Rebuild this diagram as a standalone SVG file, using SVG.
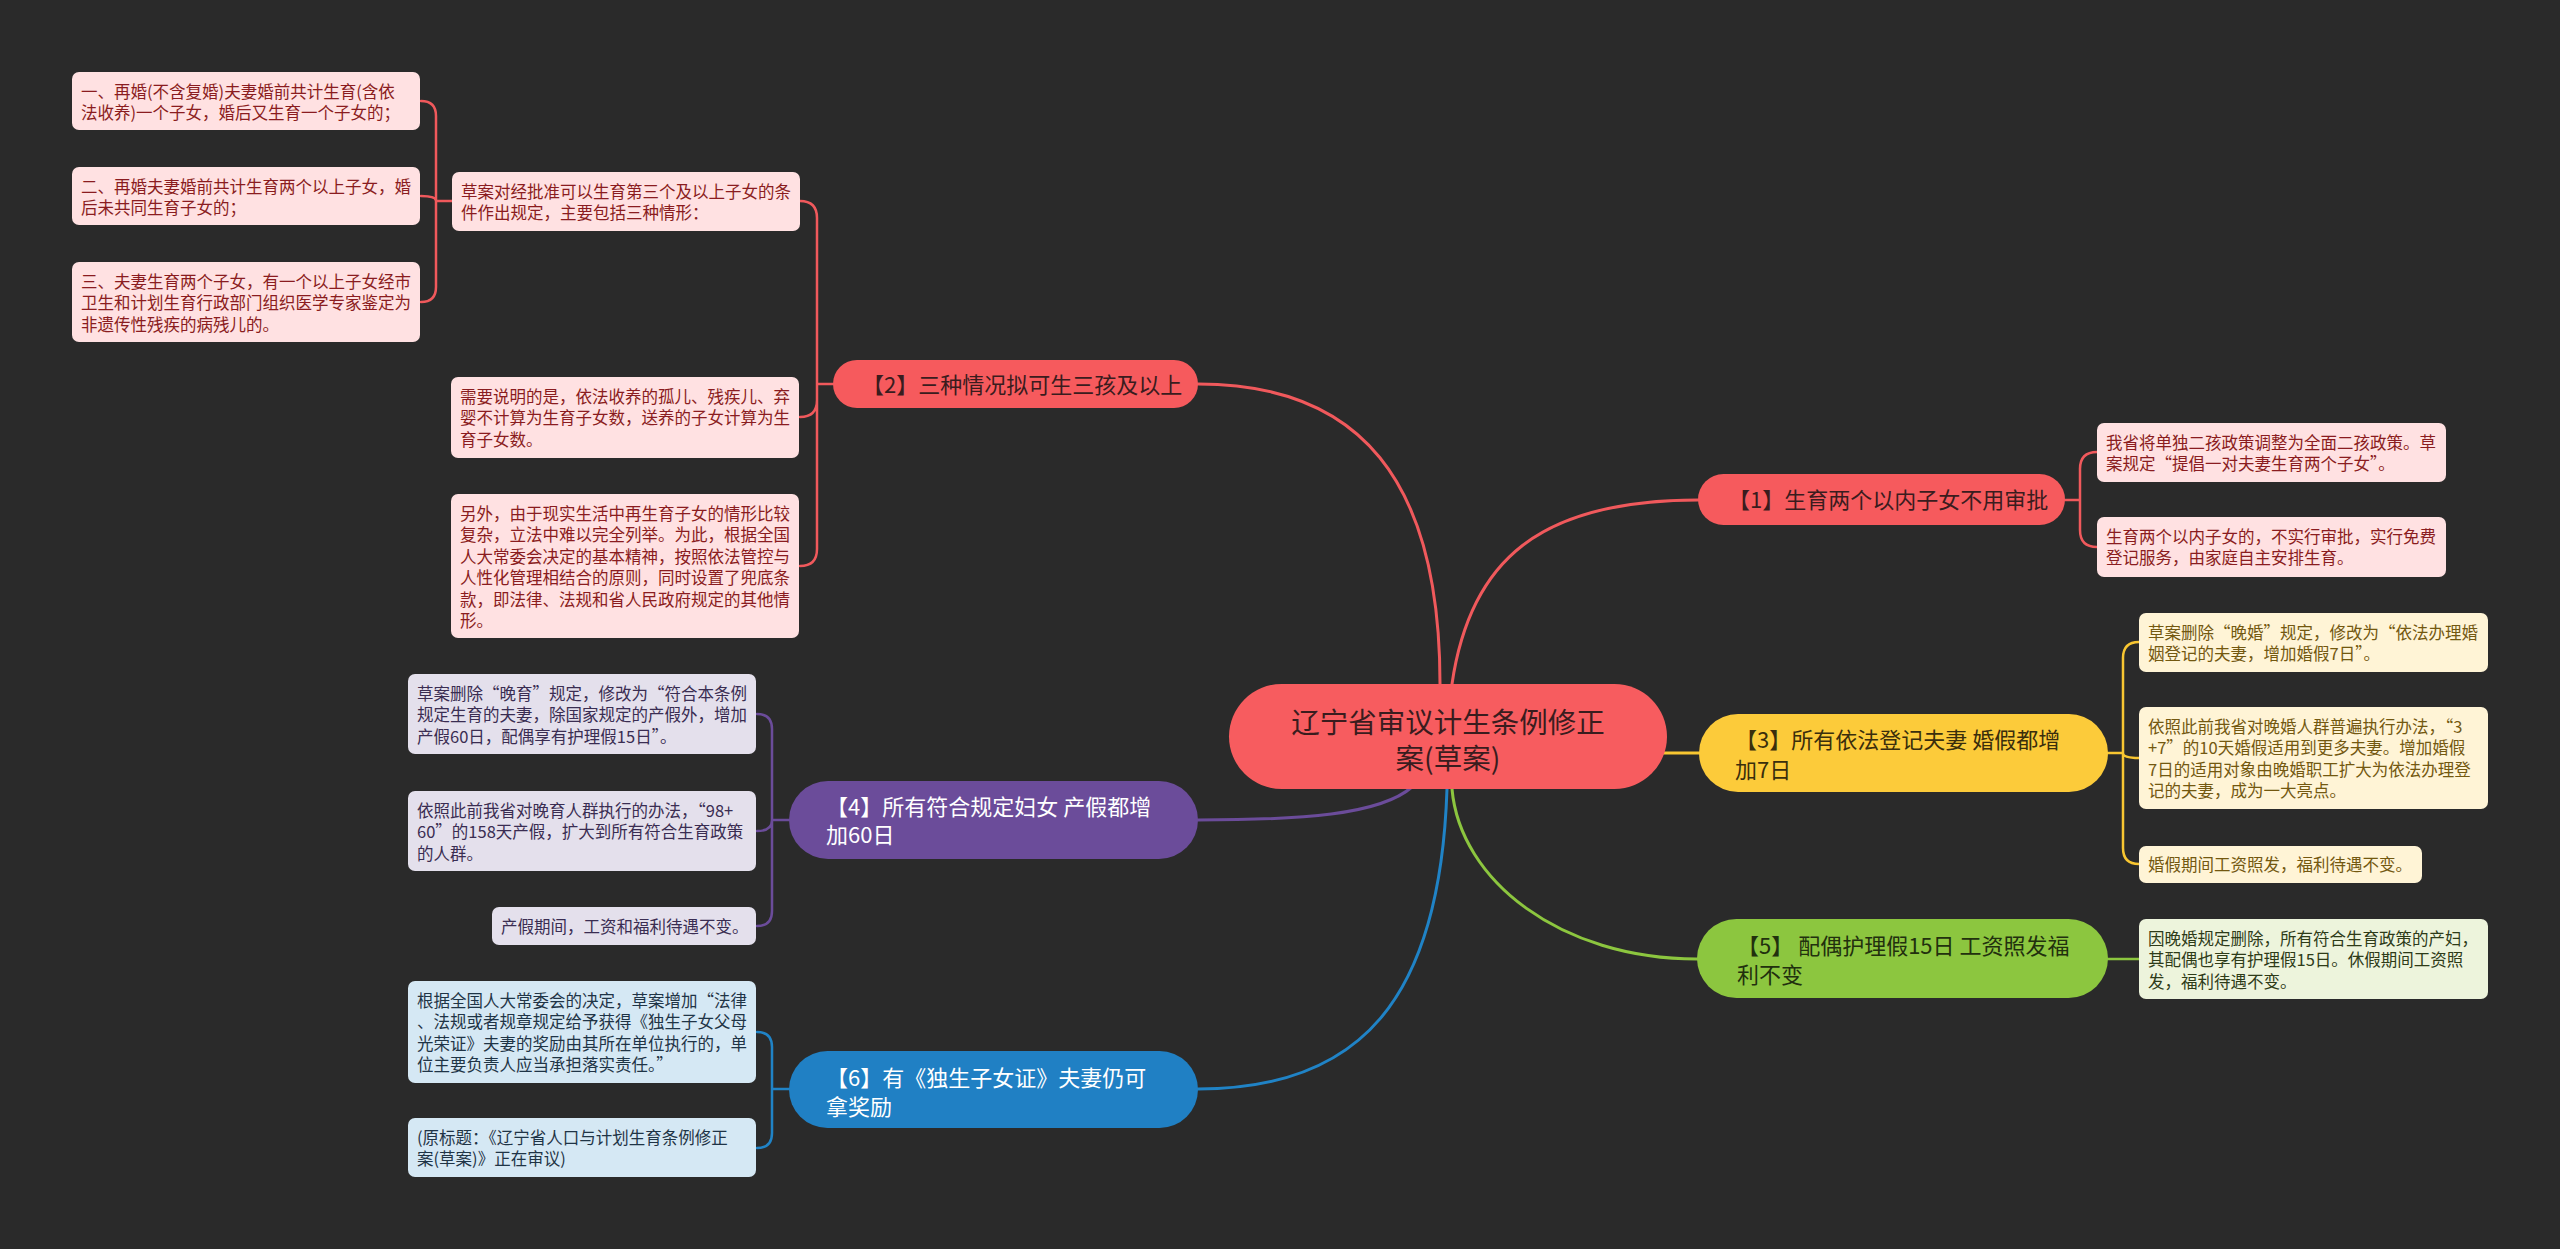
<svg xmlns="http://www.w3.org/2000/svg" width="2560" height="1249" viewBox="0 0 2560 1249">
<style>
text{font-family:"Noto Sans CJK SC","Noto Sans",sans-serif;}
.q{font-feature-settings:"fwid" 1;}
.c{fill:none;stroke-linecap:round;}
.main{stroke-width:3;}
.leafc{stroke-width:2.5;}
.red{stroke:#F0595C;}
.yel{stroke:#F8C631;}
.pur{stroke:#6B4C9A;}
.blu{stroke:#2083C6;}
.grn{stroke:#8CC63F;}
.lf{font-size:16.5px;}
.br{font-size:22px;}
.pk rect{fill:#FFE1E2;} .pk text{fill:#8A1C20;}
.yl rect{fill:#FFF4D6;} .yl text{fill:#735810;}
.gl rect{fill:#EDF4DC;} .gl text{fill:#2E3B18;}
.pl rect{fill:#E4E0EC;} .pl text{fill:#3A2D52;}
.bl rect{fill:#D5E8F4;} .bl text{fill:#1F3446;}
</style>
<rect x="0" y="0" width="2560" height="1249" fill="#2A2A2A"/>

<g id="connectors">
  <path class="c main red" d="M1452,684 C1470,560 1540,500 1698,500"/>
  <path class="c main red" d="M1440,684 C1440,480 1360,384 1198,384"/>
  <path class="c main yel" d="M1660,753 H1699"/>
  <path class="c main grn" d="M1452,789 C1460,880 1560,959 1697,959"/>
  <path class="c main pur" d="M1412,787 C1380,815 1300,820 1198,820"/>
  <path class="c main blu" d="M1447,789 C1440,1000 1360,1089 1198,1089"/>

  <path class="c leafc red" d="M2065,500 H2080 M2080,500 V469 Q2080,452 2097,452 M2080,500 V530 Q2080,547 2097,547"/>
  <path class="c leafc red" d="M833,384 H817 M817,384 V218 Q817,201 800,201 M817,384 V400 Q817,417 800,417 M817,384 V549 Q817,566 800,566"/>
  <path class="c leafc red" d="M452,201 H436 M436,201 V116 Q436,101 421,101 M436,201 Q436,196 421,196 M436,201 V287 Q436,302 421,302"/>
  <path class="c leafc yel" d="M2108,753 H2123 M2123,753 V658 Q2123,642 2139,642 M2123,753 Q2123,758 2139,758 M2123,753 V848 Q2123,864 2139,864"/>
  <path class="c leafc grn" d="M2108,959 H2139"/>
  <path class="c leafc pur" d="M789,820 H772 M772,820 V729 Q772,714 757,714 M772,820 Q772,831 757,831 M772,820 V911 Q772,926 757,926"/>
  <path class="c leafc blu" d="M789,1089 H772 M772,1089 V1047 Q772,1032 757,1032 M772,1089 V1133 Q772,1148 757,1148"/>
</g>

<g id="central">
  <rect x="1229" y="684" width="438" height="105" rx="52.5" fill="#F75C5F"/>
  <text x="1448" y="733" font-size="28.5" fill="#3A1C1E" text-anchor="middle">辽宁省审议计生条例修正</text>
  <text x="1448" y="769" font-size="28.5" fill="#3A1C1E" text-anchor="middle">案(草案)</text>
</g>

<g id="b1">
  <rect x="1698" y="474" width="367" height="51" rx="25.5" fill="#F65A5D"/>
  <text class="br" x="1728" y="508" fill="#3A1C1E">【1】生育两个以内子女不用审批</text>
</g>
<g id="b2">
  <rect x="833" y="360" width="365" height="48" rx="24" fill="#F65A5D"/>
  <text class="br" x="862" y="393" fill="#3A1C1E">【2】三种情况拟可生三孩及以上</text>
</g>
<g id="b3">
  <rect x="1699" y="714" width="409" height="78" rx="39" fill="#FCCB3A"/>
  <text class="br" x="1735" y="748" fill="#3A2E0C">【3】所有依法登记夫妻 婚假都增</text>
  <text class="br" x="1735" y="778" fill="#3A2E0C">加7日</text>
</g>
<g id="b4">
  <rect x="789" y="781" width="409" height="78" rx="39" fill="#6B4C9A"/>
  <text class="br" x="826" y="815" fill="#FFFFFF">【4】所有符合规定妇女 产假都增</text>
  <text class="br" x="826" y="843" fill="#FFFFFF">加60日</text>
</g>
<g id="b5">
  <rect x="1697" y="919" width="411" height="79" rx="39.5" fill="#8CC63F"/>
  <text class="br" x="1737" y="954" fill="#22300E">【5】 配偶护理假15日 工资照发福</text>
  <text class="br" x="1737" y="983" fill="#22300E">利不变</text>
</g>
<g id="b6">
  <rect x="789" y="1051" width="409" height="77" rx="38.5" fill="#2080C4"/>
  <text class="br" x="826" y="1086" fill="#FFFFFF">【6】有《独生子女证》夫妻仍可</text>
  <text class="br" x="826" y="1115" fill="#FFFFFF">拿奖励</text>
</g>

<g id="l1a" class="pk lf">
  <rect x="2097" y="423" width="349" height="59" rx="7"/>
  <text x="2106" y="449">我省将单独二孩政策调整为全面二孩政策。草</text>
  <text x="2106" y="470.4">案规定<tspan class="q">“</tspan>提倡一对夫妻生育两个子女<tspan class="q">”</tspan>。</text>
</g>
<g id="l1b" class="pk lf">
  <rect x="2097" y="517" width="349" height="60" rx="7"/>
  <text x="2106" y="543">生育两个以内子女的，不实行审批，实行免费</text>
  <text x="2106" y="564.4">登记服务，由家庭自主安排生育。</text>
</g>

<g id="l2a" class="pk lf">
  <rect x="452" y="172" width="348" height="59" rx="7"/>
  <text x="461" y="198">草案对经批准可以生育第三个及以上子女的条</text>
  <text x="461" y="219.4">件作出规定，主要包括三种情形：</text>
</g>
<g id="l2a1" class="pk lf">
  <rect x="72" y="72" width="348" height="58" rx="7"/>
  <text x="81" y="98">一、再婚(不含复婚)夫妻婚前共计生育(含依</text>
  <text x="81" y="119.4">法收养)一个子女，婚后又生育一个子女的；</text>
</g>
<g id="l2a2" class="pk lf">
  <rect x="72" y="167" width="348" height="58" rx="7"/>
  <text x="81" y="193">二、再婚夫妻婚前共计生育两个以上子女，婚</text>
  <text x="81" y="214.4">后未共同生育子女的；</text>
</g>
<g id="l2a3" class="pk lf">
  <rect x="72" y="262" width="348" height="80" rx="7"/>
  <text x="81" y="288">三、夫妻生育两个子女，有一个以上子女经市</text>
  <text x="81" y="309.4">卫生和计划生育行政部门组织医学专家鉴定为</text>
  <text x="81" y="330.8">非遗传性残疾的病残儿的。</text>
</g>
<g id="l2b" class="pk lf">
  <rect x="451" y="377" width="348" height="81" rx="7"/>
  <text x="460" y="403">需要说明的是，依法收养的孤儿、残疾儿、弃</text>
  <text x="460" y="424.4">婴不计算为生育子女数，送养的子女计算为生</text>
  <text x="460" y="445.8">育子女数。</text>
</g>
<g id="l2c" class="pk lf">
  <rect x="451" y="494" width="348" height="144" rx="7"/>
  <text x="460" y="520">另外，由于现实生活中再生育子女的情形比较</text>
  <text x="460" y="541.4">复杂，立法中难以完全列举。为此，根据全国</text>
  <text x="460" y="562.8">人大常委会决定的基本精神，按照依法管控与</text>
  <text x="460" y="584.2">人性化管理相结合的原则，同时设置了兜底条</text>
  <text x="460" y="605.6">款，即法律、法规和省人民政府规定的其他情</text>
  <text x="460" y="627">形。</text>
</g>

<g id="l3a" class="yl lf">
  <rect x="2139" y="613" width="349" height="59" rx="7"/>
  <text x="2148" y="639">草案删除<tspan class="q">“</tspan>晚婚<tspan class="q">”</tspan>规定，修改为<tspan class="q">“</tspan>依法办理婚</text>
  <text x="2148" y="660.4">姻登记的夫妻，增加婚假7日<tspan class="q">”</tspan>。</text>
</g>
<g id="l3b" class="yl lf">
  <rect x="2139" y="707" width="349" height="102" rx="7"/>
  <text x="2148" y="733">依照此前我省对晚婚人群普遍执行办法，<tspan class="q">“</tspan>3</text>
  <text x="2148" y="754.4">+7<tspan class="q">”</tspan>的10天婚假适用到更多夫妻。增加婚假</text>
  <text x="2148" y="775.8">7日的适用对象由晚婚职工扩大为依法办理登</text>
  <text x="2148" y="797.2">记的夫妻，成为一大亮点。</text>
</g>
<g id="l3c" class="yl lf">
  <rect x="2139" y="846" width="283" height="37" rx="7"/>
  <text x="2148" y="871">婚假期间工资照发，福利待遇不变。</text>
</g>

<g id="l5a" class="gl lf">
  <rect x="2139" y="919" width="349" height="80" rx="7"/>
  <text x="2148" y="945">因晚婚规定删除，所有符合生育政策的产妇，</text>
  <text x="2148" y="966.4">其配偶也享有护理假15日。休假期间工资照</text>
  <text x="2148" y="987.8">发，福利待遇不变。</text>
</g>

<g id="l4a" class="pl lf">
  <rect x="408" y="674" width="348" height="80" rx="7"/>
  <text x="417" y="700">草案删除<tspan class="q">“</tspan>晚育<tspan class="q">”</tspan>规定，修改为<tspan class="q">“</tspan>符合本条例</text>
  <text x="417" y="721.4">规定生育的夫妻，除国家规定的产假外，增加</text>
  <text x="417" y="742.8">产假60日，配偶享有护理假15日<tspan class="q">”</tspan>。</text>
</g>
<g id="l4b" class="pl lf">
  <rect x="408" y="791" width="348" height="80" rx="7"/>
  <text x="417" y="817">依照此前我省对晚育人群执行的办法，<tspan class="q">“</tspan>98+</text>
  <text x="417" y="838.4">60<tspan class="q">”</tspan>的158天产假，扩大到所有符合生育政策</text>
  <text x="417" y="859.8">的人群。</text>
</g>
<g id="l4c" class="pl lf">
  <rect x="492" y="907" width="264" height="38" rx="7"/>
  <text x="501" y="933">产假期间，工资和福利待遇不变。</text>
</g>

<g id="l6a" class="bl lf">
  <rect x="408" y="981" width="348" height="102" rx="7"/>
  <text x="417" y="1007">根据全国人大常委会的决定，草案增加<tspan class="q">“</tspan>法律</text>
  <text x="417" y="1028.4">、法规或者规章规定给予获得《独生子女父母</text>
  <text x="417" y="1049.8">光荣证》夫妻的奖励由其所在单位执行的，单</text>
  <text x="417" y="1071.2">位主要负责人应当承担落实责任。<tspan class="q">”</tspan></text>
</g>
<g id="l6b" class="bl lf">
  <rect x="408" y="1118" width="348" height="59" rx="7"/>
  <text x="417" y="1144">(原标题：《辽宁省人口与计划生育条例修正</text>
  <text x="417" y="1165.4">案(草案)》正在审议)</text>
</g>
</svg>
